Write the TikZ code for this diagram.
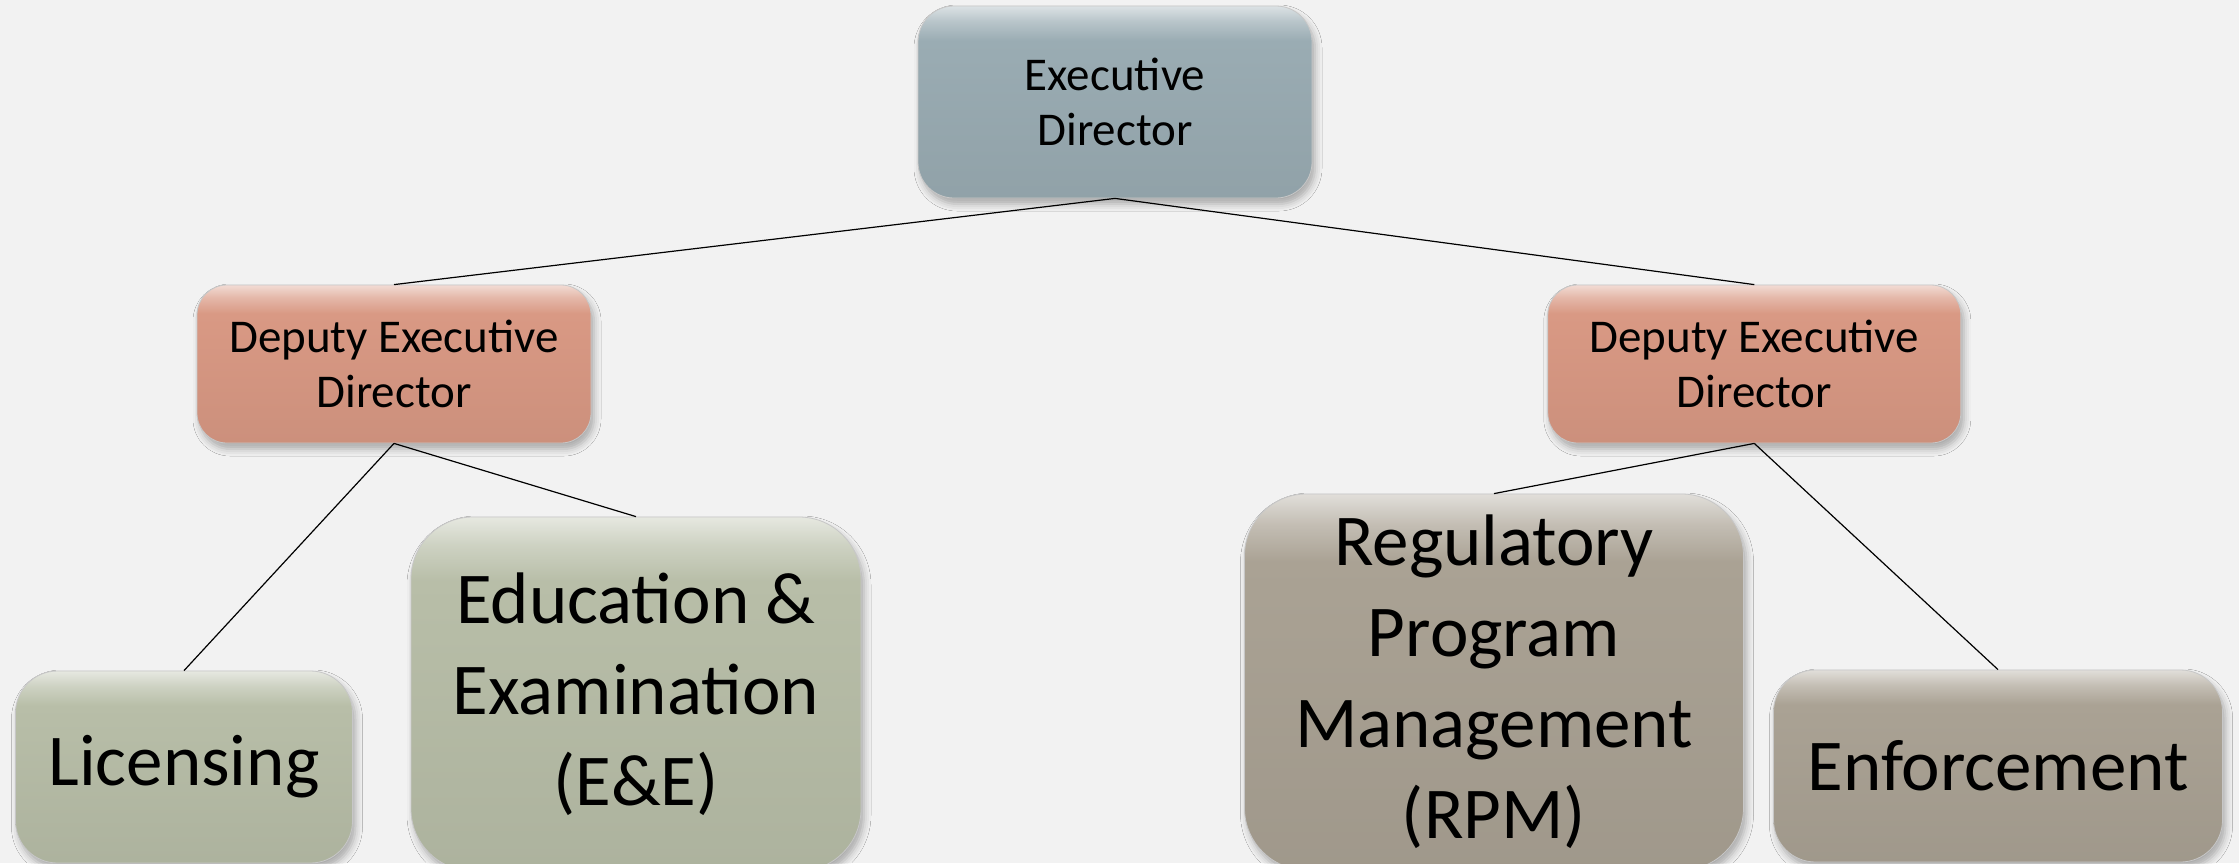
\documentclass[tikz,border=0pt]{standalone}
\usepackage{fontspec}
\setmainfont{Carlito}
\usetikzlibrary{positioning,shadows.blur}

\definecolor{execblue}{HTML}{9AACB3}
\definecolor{deputyred}{HTML}{D99984}
\definecolor{unitgreen}{HTML}{B8BEA8}
\definecolor{unitgrey}{HTML}{AAA294}
\definecolor{slidebg}{HTML}{F2F2F2}

% glossy fill: thin light band on top, flat colour below
\newcommand{\glossshade}[2]{%
  \pgfdeclareverticalshading{#1}{100bp}{color(0bp)=(#2); color(25bp)=(#2!94!black);
    color(66bp)=(#2); color(71bp)=(#2!70!white); color(75bp)=(#2!35!white); color(100bp)=(#2!35!white)}}
\glossshade{execgloss}{execblue}
\glossshade{deputygloss}{deputyred}
\glossshade{greengloss}{unitgreen}
\glossshade{greygloss}{unitgrey}

\begin{document}
\begin{tikzpicture}[x=1pt, y=-1pt,
    box/.style={rectangle, rounded corners=#1, align=center, text=black, inner sep=0pt,
        draw=black!22, line width=0.8pt,
        blur shadow={shadow xshift=3pt, shadow yshift=-6pt, shadow blur radius=7pt, shadow opacity=30}},
    exec/.style={box=36pt, shading=execgloss,
        font=\fontsize{47}{55}\selectfont, minimum width=394pt, minimum height=192pt},
    deputy/.style={box=30pt, shading=deputygloss,
        font=\fontsize{47}{55}\selectfont, minimum height=158pt},
    unit/.style={box=#1, font=\fontsize{73}{91}\selectfont},
    green/.style={shading=greengloss},
    grey/.style={shading=greygloss},
    link/.style={draw=black, line width=1.2pt}]

    \clip (0,0) rectangle (2239,863);
    \fill[slidebg] (0,0) rectangle (2239,863);

    \node (director) [exec] at (1115,102) {Executive\\Director};

    \node (deputyL) [deputy, minimum width=394pt] at (394,364) {Deputy Executive\\Director};
    \node (deputyR) [deputy, minimum width=413pt, right=956pt of deputyL] {Deputy Executive\\Director};

    \node (licensing) [unit=42pt, green, minimum width=337pt, minimum height=192pt] at (184,767) {Licensing};
    \node (educ) [unit=62pt, green, minimum width=450pt, minimum height=354pt] at (636,694)
        {Education \&\\Examination\\(E\&E)};

    \node (rpm) [unit=62pt, grey, minimum width=499pt, minimum height=376pt] at (1494,682)
        {Regulatory\\Program\\Management\\(RPM)};
    \node (enforce) [unit=42pt, grey, minimum width=449pt, minimum height=192pt] at (1998,766) {Enforcement};

    \draw [link] (director.south) -- (deputyL.north);
    \draw [link] (director.south) -- (deputyR.north);
    \draw [link] (deputyL.south) -- (licensing.north);
    \draw [link] (deputyL.south) -- (educ.north);
    \draw [link] (deputyR.south) -- (rpm.north);
    \draw [link] (deputyR.south) -- (enforce.north);
\end{tikzpicture}
\end{document}
